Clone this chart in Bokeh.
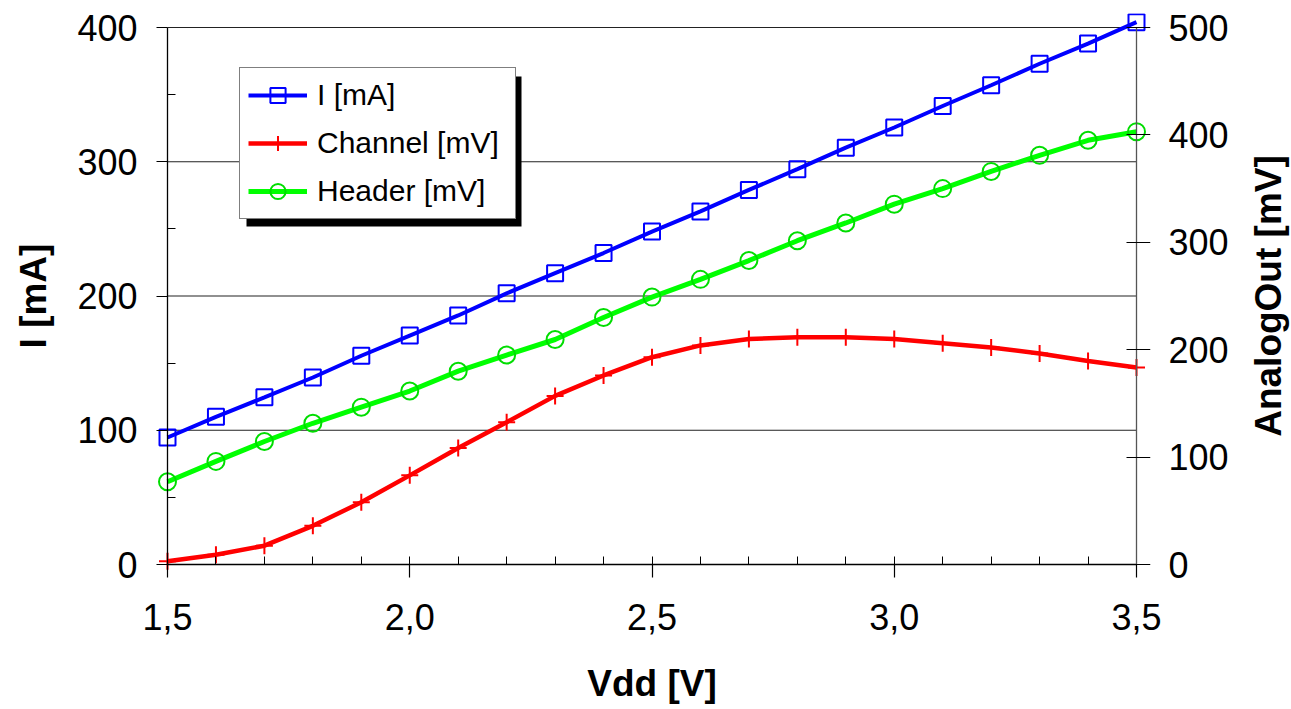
import math
from bokeh.plotting import figure
from bokeh.models import (Range1d, LinearAxis, FixedTicker, Legend, LegendItem, Label,
                          BoxAnnotation, ColumnDataSource, CustomJSTickFormatter)
from bokeh.embed import file_html
from bokeh.resources import INLINE

# ---------------- data ----------------
vdd = [1.5, 1.6, 1.7, 1.8, 1.9, 2.0, 2.1, 2.2, 2.3, 2.4, 2.5,
       2.6, 2.7, 2.8, 2.9, 3.0, 3.1, 3.2, 3.3, 3.4, 3.5]
current_ma = [94.6, 110, 124.5, 139.3, 155.5, 170.5, 185.5, 202, 217, 232, 248,
              263, 279, 294.5, 310.5, 325.5, 341.5, 357, 373, 388, 404]
channel_mv = [3, 9, 17.5, 36, 58, 83, 108.5, 132.5, 157, 176, 193,
              204, 210, 211.5, 211.5, 210, 206, 202, 196.5, 189.5, 183.5]
header_mv = [77, 96, 114.5, 131.5, 146.5, 161.5, 180, 195, 209.5, 230, 249,
             265.5, 283, 301.5, 318, 335.5, 350, 366, 381, 395, 403]

x_ticks = [1.5, 2.0, 2.5, 3.0, 3.5]
x_tick_labels = ["1,5", "2,0", "2,5", "3,0", "3,5"]
i_ticks = [0, 100, 200, 300, 400]
mv_ticks = [0, 100, 200, 300, 400, 500]

series_labels = ["I [mA]", "Channel [mV]", "Header [mV]"]
x_title = "Vdd [V]"
left_title = "I [mA]"
right_title = "AnalogOut [mV]"

# ---------------- layout (pixels) ----------------
W, H = 1291, 709
FL, FR, FT, FB = 167, 1136, 27, 564   # where the axis lines sit
PAD = 14                              # frame padding so edge markers are not clipped
LEG_L, LEG_T, LEG_W, LEG_H = 239, 69, 275, 150
SHADOW = 7
RTITLE_X = 1268

x0, x1 = vdd[0], vdd[-1]
xpp = (x1 - x0) / (FR - FL)
ypp = (i_ticks[-1] - i_ticks[0]) / (FB - FT)
ratio = mv_ticks[-1] / i_ticks[-1]

def px_x(px):
    return x0 + (px - FL) * xpp

def px_y(py):
    return i_ticks[0] + (FB - py) * ypp

x_range = Range1d(x0 - PAD * xpp, x1 + PAD * xpp)
y_range = Range1d(i_ticks[0] - PAD * ypp, i_ticks[-1] + PAD * ypp)

p = figure(width=W, height=H, x_range=x_range, y_range=y_range,
           output_backend="svg", toolbar_location=None,
           x_axis_location=None, y_axis_location=None,
           min_border_left=FL - PAD, min_border_right=W - FR - PAD,
           min_border_top=FT - PAD, min_border_bottom=H - FB - PAD)
p.outline_line_color = None
p.background_fill_color = "white"
p.border_fill_color = "white"
p.xgrid.visible = False
p.ygrid.visible = False
p.extra_y_ranges = {"mv": Range1d(y_range.start * ratio, y_range.end * ratio)}

FONT = "Liberation Sans"

xfmt = CustomJSTickFormatter(args=dict(tvals=x_ticks, tlabels=x_tick_labels), code="""
    for (let i = 0; i < tvals.length; i++) { if (Math.abs(tvals[i] - tick) < 1e-9) return tlabels[i]; }
    return '';
""")

# ---------------- axis lines + ticks (placed at the data edges) ----------------
xrule = LinearAxis(fixed_location=i_ticks[0], bounds=(x0, x1),
                   ticker=FixedTicker(ticks=x_ticks, minor_ticks=vdd))
left_minor = [(a + b) / 2 for a, b in zip(i_ticks, i_ticks[1:])]
lrule = LinearAxis(fixed_location=x0, bounds=(i_ticks[0], i_ticks[-1]),
                   ticker=FixedTicker(ticks=i_ticks, minor_ticks=left_minor))
rrule = LinearAxis(y_range_name="mv", fixed_location=x1, bounds=(mv_ticks[0], mv_ticks[-1]),
                   ticker=FixedTicker(ticks=mv_ticks, minor_ticks=[]))
for ax in (xrule, lrule, rrule):
    ax.axis_line_color = "black"
    ax.axis_line_width = 1.3
    ax.major_tick_line_color = "black"
    ax.major_tick_line_width = 1.2
    ax.minor_tick_line_color = "black"
    ax.minor_tick_line_width = 1.0
    ax.major_label_text_alpha = 0
xrule.major_tick_in, xrule.major_tick_out = 0, 13
xrule.minor_tick_in, xrule.minor_tick_out = 8, 0
lrule.major_tick_in, lrule.major_tick_out = 0, 11
lrule.minor_tick_in, lrule.minor_tick_out = 8, 0
rrule.axis_line_color = "#555555"
rrule.major_tick_in, rrule.major_tick_out = 10, 14
rrule.minor_tick_in, rrule.minor_tick_out = 0, 0

# ---------------- tick labels + titles (at the frame edges) ----------------
xaxis = LinearAxis(ticker=FixedTicker(ticks=x_ticks, minor_ticks=[]), formatter=xfmt,
                   axis_label=x_title)
laxis = LinearAxis(ticker=FixedTicker(ticks=i_ticks, minor_ticks=[]), axis_label=left_title)
raxis = LinearAxis(y_range_name="mv", ticker=FixedTicker(ticks=mv_ticks, minor_ticks=[]))
for ax in (xaxis, laxis, raxis):
    ax.axis_line_color = None
    ax.major_tick_line_color = None
    ax.minor_tick_line_color = None
    ax.major_tick_in = ax.major_tick_out = 0
    ax.minor_tick_in = ax.minor_tick_out = 0
    ax.major_label_text_font = FONT
    ax.major_label_text_font_size = "36px"
    ax.major_label_text_color = "black"
    ax.axis_label_text_font = FONT
    ax.axis_label_text_font_size = "37px"
    ax.axis_label_text_font_style = "bold"
    ax.axis_label_text_color = "black"
xaxis.major_label_standoff = 25
xaxis.axis_label_standoff = 30
laxis.major_label_standoff = 16
laxis.axis_label_standoff = 20
raxis.major_label_standoff = 18

p.add_layout(xaxis, "below")
p.add_layout(laxis, "left")
p.add_layout(raxis, "right")
p.add_layout(xrule, "below")
p.add_layout(lrule, "left")
p.add_layout(rrule, "right")

# right-hand axis title, reading bottom to top (placed in the right side panel)
p.add_layout(Label(x=px_x(RTITLE_X), y=(i_ticks[0] + i_ticks[-1]) / 2, text=right_title,
                   angle=math.pi / 2, text_align="center", text_baseline="middle",
                   text_font=FONT, text_font_size="37px", text_font_style="bold",
                   text_color="black"), "right")

# ---------------- grid lines (left axis ticks) ----------------
grid_vals = i_ticks[1:]
p.segment(x0=[x0] * len(grid_vals), y0=grid_vals, x1=[x1] * len(grid_vals), y1=grid_vals,
          line_color="#222222", line_width=1.2)

# ---------------- series ----------------
src = ColumnDataSource(dict(vdd=vdd, cur=current_ma, ch=channel_mv, hd=header_mv))

r_ch_line = p.line("vdd", "ch", source=src, y_range_name="mv", line_color="#FF0000", line_width=4.5)
r_ch_mark = p.scatter("vdd", "ch", source=src, y_range_name="mv", marker="cross", size=17,
                      line_color="#FF0000", line_width=2)
r_hd_line = p.line("vdd", "hd", source=src, y_range_name="mv", line_color="#00FF00", line_width=5)
r_hd_mark = p.scatter("vdd", "hd", source=src, y_range_name="mv", marker="circle", size=17,
                      fill_color=None, line_color="#00DD00", line_width=2)
r_i_line = p.line("vdd", "cur", source=src, line_color="#0000FF", line_width=4)
r_i_mark = p.scatter("vdd", "cur", source=src, marker="square", size=16,
                     fill_color=None, line_color="#0000FF", line_width=2)

# ---------------- legend with shadow ----------------
shadow = BoxAnnotation(left=px_x(LEG_L + SHADOW), right=px_x(LEG_L + LEG_W + SHADOW),
                       top=px_y(LEG_T + SHADOW), bottom=px_y(LEG_T + LEG_H + SHADOW),
                       fill_color="black", fill_alpha=1.0, line_color=None)
p.add_layout(shadow)

legend = Legend(items=[
    LegendItem(label=series_labels[0], renderers=[r_i_line, r_i_mark]),
    LegendItem(label=series_labels[1], renderers=[r_ch_line, r_ch_mark]),
    LegendItem(label=series_labels[2], renderers=[r_hd_line, r_hd_mark]),
], location=(LEG_L - (FL - PAD), (FB + PAD) - (LEG_T + LEG_H)))
legend.margin = 0
legend.padding = 8
legend.spacing = 10
legend.label_height = 38
legend.glyph_height = 38
legend.glyph_width = 59
legend.label_standoff = 10
legend.label_width = 190
legend.label_text_font = FONT
legend.label_text_font_size = "30px"
legend.label_text_color = "black"
legend.border_line_color = "black"
legend.border_line_width = 1
legend.background_fill_color = "white"
legend.background_fill_alpha = 1.0
p.add_layout(legend)

open("out.html", "w").write(file_html(p, INLINE))
